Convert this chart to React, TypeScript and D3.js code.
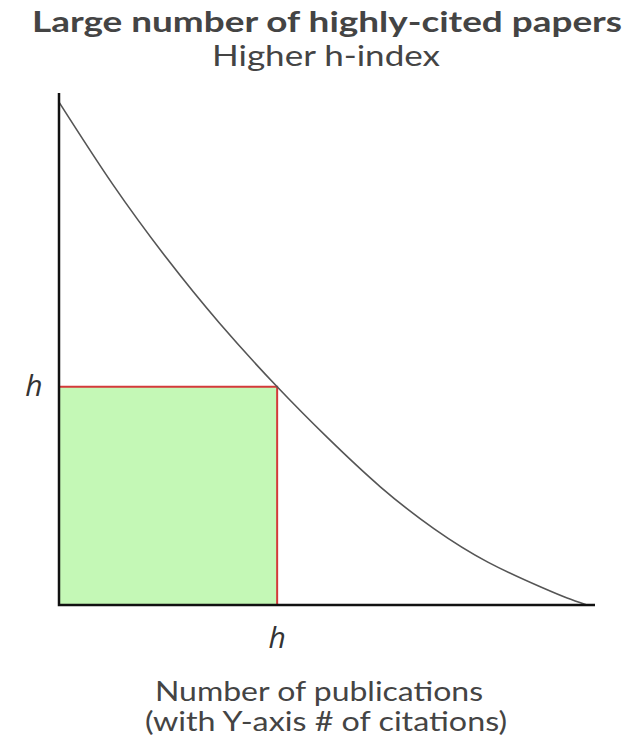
import React, { useEffect, useRef } from 'react';
import * as d3 from 'd3';

// citation curve (x: papers ranked, y: citations)
const curveX = [0, 10, 20, 30, 40.7, 50, 60, 70, 80, 90, 94.8, 98.5];
const curveY = [93.8, 78.5, 64.8, 52.5, 40.7, 31.3, 22.0, 14.2, 8.0, 3.3, 1.3, 0];
const hValue = 40.7;
const titleLines = ['Large number of highly-cited papers', 'Higher h-index'];
const xLabelLines = ['Number of publications', '(with Y-axis # of citations)'];

const W = 629, H = 745;

const App = () => {
    const ref = useRef<SVGSVGElement>(null);

    useEffect(() => {
        if (!ref.current) return;
        const svg = d3.select(ref.current);
        svg.selectAll('*').remove();

        const x = d3.scaleLinear().domain([0, 100]).range([59, 595]);
        const y = d3.scaleLinear().domain([0, 95.5]).range([605, 93]);

        const font = "Lato, 'Open Sans', sans-serif";
        const textColor = '#444';

        // green square
        svg.append('rect')
            .attr('x', x(0))
            .attr('y', y(hValue))
            .attr('width', x(hValue) - x(0))
            .attr('height', y(0) - y(hValue))
            .attr('fill', '#c4f8b6');

        svg.append('path')
            .attr('d', `M${x(0)},${y(hValue)}H${x(hValue)}V${y(0)}`)
            .attr('fill', 'none')
            .attr('stroke', '#d33a3a')
            .attr('stroke-width', 2);

        // curve
        const pts = curveX.map((v, i) => [v, curveY[i]] as [number, number]);
        const line = d3.line<[number, number]>()
            .x(d => x(d[0]))
            .y(d => y(d[1]))
            .curve(d3.curveNatural);
        svg.append('path')
            .attr('d', line(pts))
            .attr('fill', 'none')
            .attr('stroke', '#555')
            .attr('stroke-width', 1.6);

        // axes
        svg.append('path')
            .attr('d', `M${x(0)},${y(95.5)}V${y(0)}H${x(100)}`)
            .attr('fill', 'none')
            .attr('stroke', '#111')
            .attr('stroke-width', 2.5);

        // h labels
        svg.append('text')
            .attr('x', 34).attr('y', y(hValue) + 9)
            .attr('text-anchor', 'middle')
            .attr('font-family', "'Open Sans', sans-serif").attr('font-style', 'italic')
            .attr('font-size', 30).attr('fill', '#333')
            .text('h');
        svg.append('text')
            .attr('x', x(hValue)).attr('y', 648)
            .attr('text-anchor', 'middle')
            .attr('font-family', "'Open Sans', sans-serif").attr('font-style', 'italic')
            .attr('font-size', 30).attr('fill', '#333')
            .text('h');

        // titles
        svg.append('text')
            .attr('x', 327).attr('y', 32)
            .attr('text-anchor', 'middle')
            .attr('font-family', font).attr('font-weight', 'bold')
            .attr('font-size', 29).attr('fill', textColor)
            .attr('textLength', 590).attr('lengthAdjust', 'spacingAndGlyphs')
            .text(titleLines[0]);
        svg.append('text')
            .attr('x', 326).attr('y', 66)
            .attr('text-anchor', 'middle')
            .attr('font-family', font)
            .attr('font-size', 29).attr('fill', textColor)
            .attr('textLength', 228).attr('lengthAdjust', 'spacingAndGlyphs')
            .text(titleLines[1]);

        const labelWidths = [328, 362];
        const labelCenters = [319, 326];
        xLabelLines.forEach((t, i) => {
            svg.append('text')
                .attr('x', labelCenters[i]).attr('y', 701 + i * 30)
                .attr('text-anchor', 'middle')
                .attr('font-family', font)
                .attr('font-size', 26).attr('fill', textColor)
                .attr('textLength', labelWidths[i]).attr('lengthAdjust', 'spacingAndGlyphs')
                .text(t);
        });
    }, []);

    return (
        <svg ref={ref} width={W} height={H}
            style={{ position: 'absolute', left: 0, top: 0, background: '#fff' }} />
    );
};

export default App;
